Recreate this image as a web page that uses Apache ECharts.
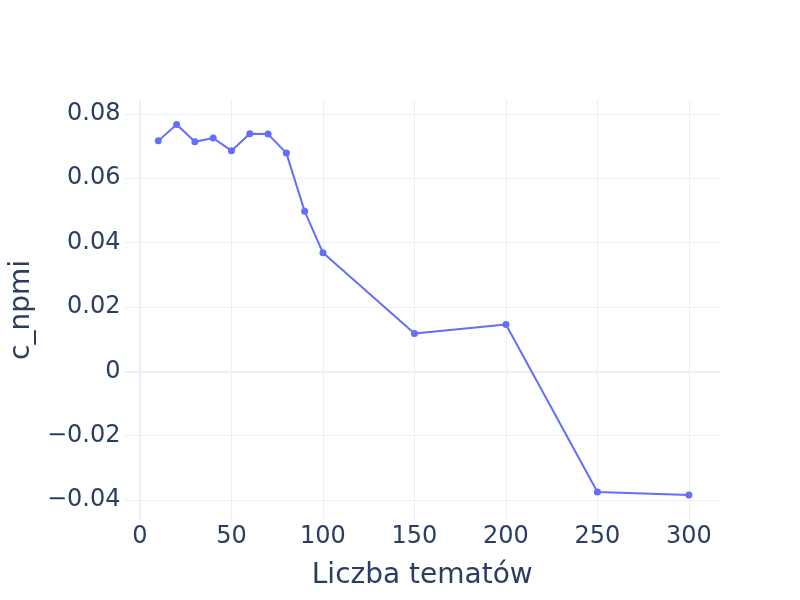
<!DOCTYPE html>
<html>
<head>
<meta charset="utf-8">
<script src="https://cdn.jsdelivr.net/npm/echarts@6/dist/echarts.min.js"></script>
<style>html,body{margin:0;padding:0;background:#fff}#c{width:800px;height:600px}</style>
</head>
<body>
<div id="c"></div>
<script>
var topics = [10, 20, 30, 40, 50, 60, 70, 80, 90, 100, 150, 200, 250, 300];
var cNpmi = [0.0716, 0.0767, 0.0713, 0.0725, 0.0685, 0.0738, 0.0737, 0.0678, 0.0497, 0.0368, 0.01175, 0.01455, -0.0375, -0.0384];
var xTicks = [0, 50, 100, 150, 200, 250, 300];
var yTicks = [-0.04, -0.02, 0, 0.02, 0.04, 0.06, 0.08];

var FONT = 'DejaVu Sans';
var TXT = '#2a3f5f';
var GRID = '#EBF0F8';

function fmtY(v) {
  if (Math.abs(v) < 1e-9) return '0';
  var s = Math.abs(v).toFixed(2);
  return (v < 0 ? '\u22120' : '0') + s.slice(1);
}

var chart = echarts.init(document.getElementById('c'));
chart.setOption({
  backgroundColor: '#fff',
  animation: false,
  grid: { left: 123, right: 80, top: 100, bottom: 80, containLabel: false },
  xAxis: {
    type: 'value',
    min: -8.5, max: 317,
    name: 'Liczba tematów',
    nameLocation: 'middle',
    nameGap: 42,
    nameTextStyle: { fontFamily: FONT, fontSize: 28, color: TXT },
    axisLine: { show: false },
    axisTick: { show: false, customValues: xTicks },
    axisLabel: { customValues: xTicks, fontFamily: FONT, fontSize: 24, color: TXT, margin: 5 },
    splitLine: { show: false }
  },
  yAxis: {
    type: 'value',
    min: -0.0462, max: 0.0843,
    name: 'c_npmi',
    nameLocation: 'middle',
    nameGap: 84,
    nameTextStyle: { fontFamily: FONT, fontSize: 28, color: TXT },
    axisLine: { show: false },
    axisTick: { show: false, customValues: yTicks },
    axisLabel: { customValues: yTicks, fontFamily: FONT, fontSize: 24, color: TXT, margin: 4, formatter: fmtY },
    splitLine: { show: false }
  },
  series: [
    {
      type: 'line',
      data: [],
      silent: true,
      markLine: {
        silent: true,
        symbol: 'none',
        label: { show: false },
        data: xTicks.map(function (v) { return { xAxis: v, lineStyle: { color: GRID, width: v === 0 ? 2 : 1, type: 'solid' } }; })
          .concat(yTicks.map(function (v) { return { yAxis: v, lineStyle: { color: GRID, width: v === 0 ? 2 : 1, type: 'solid' } }; }))
      }
    },
    {
      type: 'line',
      data: topics.map(function (t, i) { return [t, cNpmi[i]]; }),
      symbol: 'circle',
      symbolSize: 7,
      showSymbol: true,
      lineStyle: { color: '#636efa', width: 2 },
      itemStyle: { color: '#636efa' },
      z: 5
    }
  ]
});
</script>
</body>
</html>
